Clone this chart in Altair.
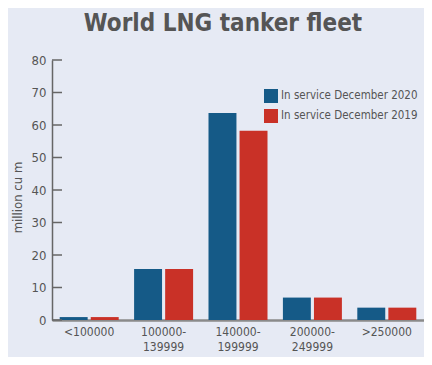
import altair as alt
import pandas as pd

categories = ["<100000", "100000-|139999", "140000-|199999", "200000-|249999", ">250000"]
series = ["In service December 2020", "In service December 2019"]
values_2020 = [0.9, 15.7, 63.7, 6.9, 3.8]
values_2019 = [0.9, 15.7, 58.2, 6.9, 3.8]
y_ticks = [0, 10, 20, 30, 40, 50, 60, 70, 80]

rows = []
for c, a, b in zip(categories, values_2020, values_2019):
    rows.append({"cat": c, "series": series[0], "value": a})
    rows.append({"cat": c, "series": series[1], "value": b})
df = pd.DataFrame(rows)
ticks_df = pd.DataFrame({"v": y_ticks})

FONT = "DejaVu Sans Condensed, sans-serif"
TXT = "#555555"

x_scale = alt.Scale(domain=categories, paddingInner=0.207, paddingOuter=0.1035)
y_scale = alt.Scale(domain=[0, 80], nice=False)


def y_axis():
    return alt.Axis(title="million cu m", values=y_ticks, ticks=False, grid=False,
                    labelOverlap=False, tickCount=9,
                    labelFont=FONT, labelFontSize=13, labelColor=TXT, labelPadding=6,
                    domainColor="#666666", domainWidth=1.5,
                    titleFont=FONT, titleFontSize=13, titleFontWeight="normal",
                    titleColor=TXT, titleAngle=-90, titleX=-35, titleY=137,
                    titleAlign="center", titleBaseline="middle")


bars = alt.Chart(df).mark_bar().encode(
    x=alt.X("cat:N", scale=x_scale, sort=categories,
            axis=alt.Axis(title=None, labelAngle=0, labelExpr="split(datum.label, '|')",
                          labelFont=FONT, labelFontSize=12, labelColor=TXT,
                          labelPadding=6, labelLineHeight=15, ticks=False,
                          domainColor="#8a8a8a", domainWidth=2.5)),
    xOffset=alt.XOffset("series:N", sort=series,
                        scale=alt.Scale(domain=series, paddingInner=0.1, paddingOuter=0)),
    y=alt.Y("value:Q", scale=y_scale, axis=y_axis()),
    color=alt.Color("series:N", sort=series,
                    scale=alt.Scale(domain=series, range=["#155a87", "#c93127"]),
                    legend=alt.Legend(title=None, orient="none", legendX=212, legendY=29,
                                      symbolType="square", symbolSize=196, symbolStrokeWidth=0,
                                      symbolOpacity=1, labelFont=FONT, labelFontSize=11.5,
                                      labelColor=TXT, labelOffset=3, rowPadding=6,
                                      labelLimit=300)),
)

tick_rules = alt.Chart(ticks_df).mark_rule(color="#666666", strokeWidth=1.5).encode(
    y=alt.Y("v:Q", scale=y_scale, axis=y_axis()),
    x=alt.value(0),
    x2=alt.value(10),
)

chart = alt.layer(bars, tick_rules).properties(
    width=372,
    height=260,
    title=alt.TitleParams("World LNG tanker fleet", font=FONT, fontSize=24, fontWeight="bold",
                          color=TXT, anchor="middle", frame="group", dx=-15, offset=18),
    autosize=alt.AutoSizeParams(type="none"),
    padding={"left": 44, "top": 52, "right": 0, "bottom": 37},
    background="#e6eaf4",
).configure_view(stroke=None)

chart.save("out.html", embed_options={"renderer": "svg", "actions": False})
